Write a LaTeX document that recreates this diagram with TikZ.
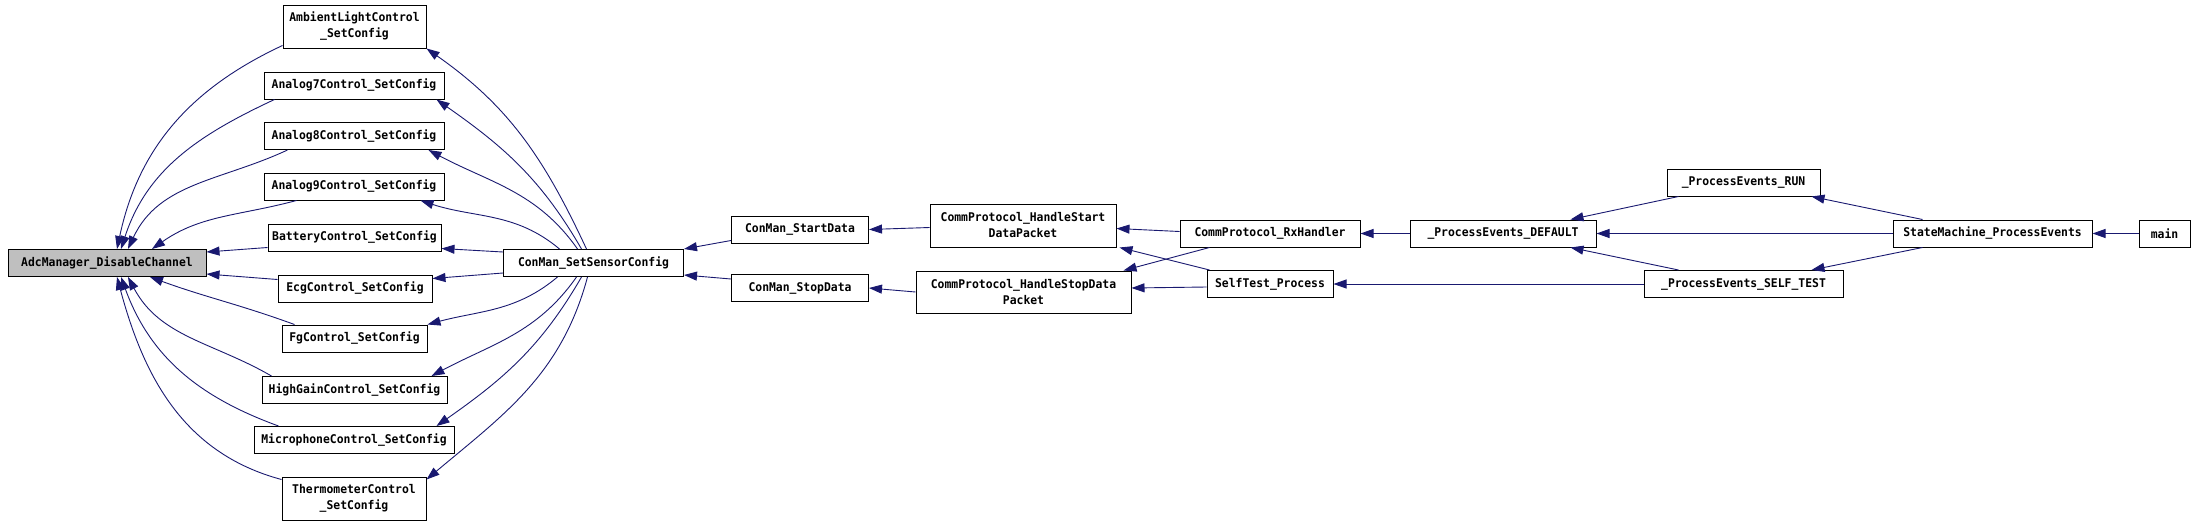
\documentclass[tikz,border=0pt]{standalone}
\usepackage{fontspec}
\usepackage{tikz}
\usetikzlibrary{arrows.meta}
\newfontfamily\fnfont{DejaVu Sans Mono}[FakeStretch=0.95]
\definecolor{edgeblue}{RGB}{25,25,112}
\definecolor{nodegray}{RGB}{191,191,191}

\begin{document}
\begin{tikzpicture}[x=1pt,y=1pt,
  fn/.style={draw=black,line width=1pt,fill=white,inner sep=0pt,minimum height=27pt,align=center,
    font=\fnfont\bfseries\fontsize{12}{16}\selectfont},
  fntwo/.style={fn,minimum height=43pt},
  call/.style={draw=edgeblue,line width=0.9pt,-{Triangle[length=13pt,width=9pt]}}]
\useasboundingbox (0,0) rectangle (2195,-525);
\node[fn,fill=nodegray,minimum width=198] (adc) at (107,-263) {AdcManager\_DisableChannel};
\node[fntwo,minimum width=143] (ambient) at (354.5,-26.5) {AmbientLightControl\\\_SetConfig};
\node[fn,minimum width=180] (analog7) at (354,-85.5) {Analog7Control\_SetConfig};
\node[fn,minimum width=180] (analog8) at (354,-136) {Analog8Control\_SetConfig};
\node[fn,minimum width=180] (analog9) at (354,-186.5) {Analog9Control\_SetConfig};
\node[fn,minimum width=173] (battery) at (354.5,-237.5) {BatteryControl\_SetConfig};
\node[fn,minimum width=154] (ecg) at (355,-288.5) {EcgControl\_SetConfig};
\node[fn,minimum width=145] (fg) at (354.5,-338.5) {FgControl\_SetConfig};
\node[fn,minimum width=185] (highgain) at (354.5,-390) {HighGainControl\_SetConfig};
\node[fn,minimum width=200] (micro) at (354,-440) {MicrophoneControl\_SetConfig};
\node[fntwo,minimum width=144] (thermo) at (354,-498.5) {ThermometerControl\\\_SetConfig};
\node[fn,minimum width=180] (setsensor) at (593.5,-263) {ConMan\_SetSensorConfig};
\node[fn,minimum width=137] (startdata) at (800,-229.5) {ConMan\_StartData};
\node[fn,minimum width=137] (stopdata) at (800,-288) {ConMan\_StopData};
\node[fntwo,minimum width=186] (hstart) at (1023,-225.5) {CommProtocol\_HandleStart\\DataPacket};
\node[fntwo,minimum width=215,minimum height=42] (hstop) at (1023.5,-292) {CommProtocol\_HandleStopData\\Packet};
\node[fn,minimum width=180] (rx) at (1270,-233.5) {CommProtocol\_RxHandler};
\node[fn,minimum width=126] (selftest) at (1270,-284) {SelfTest\_Process};
\node[fn,minimum width=186] (default) at (1503,-233.5) {\_ProcessEvents\_DEFAULT};
\node[fn,minimum width=153] (run) at (1743.5,-182.5) {\_ProcessEvents\_RUN};
\node[fn,minimum width=199] (selftestev) at (1743.5,-284) {\_ProcessEvents\_SELF\_TEST};
\node[fn,minimum width=199] (sm) at (1992.5,-233.5) {StateMachine\_ProcessEvents};
\node[fn,minimum width=51] (main) at (2164.5,-233.5) {main};

\draw[call] ([yshift=3]ambient.south west) to[out=205,in=78] ([xshift=10]adc.north);
\draw[call] ([xshift=11]analog7.south west) to[out=205,in=72] ([xshift=14]adc.north);
\draw[call] ([xshift=24]analog8.south west) to[out=205,in=65] ([xshift=21]adc.north);
\draw[call] ([xshift=33]analog9.south west) to[out=195,in=35] ([xshift=45]adc.north);
\draw[call] ([yshift=4]battery.south west) -- ([yshift=-3]adc.north east);
\draw[call] ([yshift=-5]ecg.north west) -- ([yshift=3]adc.south east);
\draw[call] ([xshift=13]fg.north west) to[out=160,in=-20] ([xshift=43]adc.south);
\draw[call] ([xshift=10]highgain.north west) to[out=150,in=-62] ([xshift=21]adc.south);
\draw[call] ([xshift=25]micro.north west) to[out=160,in=-70] ([xshift=14]adc.south);
\draw[call] ([yshift=-3]thermo.north west) to[out=165,in=-75] ([xshift=10]adc.south);

\draw[call] ([xshift=-7]setsensor.north) to[out=115,in=-35] (ambient.south east);
\draw[call] ([xshift=-12]setsensor.north) to[out=120,in=-35] ([xshift=-8]analog7.south east);
\draw[call] ([xshift=-16]setsensor.north) to[out=125,in=-28] ([xshift=-16]analog8.south east);
\draw[call] ([xshift=-34]setsensor.north) to[out=140,in=-18] ([xshift=-24]analog9.south east);
\draw[call] ([yshift=-3]setsensor.north west) -- ([yshift=3]battery.south east);
\draw[call] ([yshift=4]setsensor.south west) -- ([yshift=-4]ecg.north east);
\draw[call] ([xshift=-36]setsensor.south) to[out=-140,in=15] (fg.north east);
\draw[call] ([xshift=-17]setsensor.south) to[out=-125,in=28] ([xshift=-16]highgain.north east);
\draw[call] ([xshift=-12]setsensor.south) to[out=-120,in=35] ([xshift=-18]micro.north east);
\draw[call] ([xshift=-6]setsensor.south) to[out=-105,in=40] ([yshift=-3]thermo.north east);

\draw[call] ([yshift=3]startdata.south west) -- (setsensor.north east);
\draw[call] ([yshift=-5]stopdata.north west) -- ([yshift=2]setsensor.south east);
\draw[call] ([yshift=-2]hstart.west) -- (startdata.east);
\draw[call] (hstop.west) -- (stopdata.east);
\draw[call] ([yshift=2]rx.west) -- ([yshift=-3]hstart.east);
\draw[call] ([xshift=30]rx.south west) -- ([xshift=-8]hstop.north east);
\draw[call] ([xshift=3]selftest.north west) -- ([xshift=3]hstart.south east);
\draw[call] ([yshift=-3]selftest.west) -- ([yshift=4]hstop.east);
\draw[call] (default.west) -- (rx.east);
\draw[call] ([xshift=12]run.south west) -- ([xshift=-26]default.north east);
\draw[call] ([xshift=35]selftestev.north west) -- ([xshift=-26]default.south east);
\draw[call] (selftestev.west) -- (selftest.east);
\draw[call] ([xshift=30]sm.north west) -- ([xshift=-9]run.south east);
\draw[call] (sm.west) -- (default.east);
\draw[call] ([xshift=30]sm.south west) -- ([xshift=-32]selftestev.north east);
\draw[call] (main.west) -- (sm.east);
\end{tikzpicture}
\end{document}
